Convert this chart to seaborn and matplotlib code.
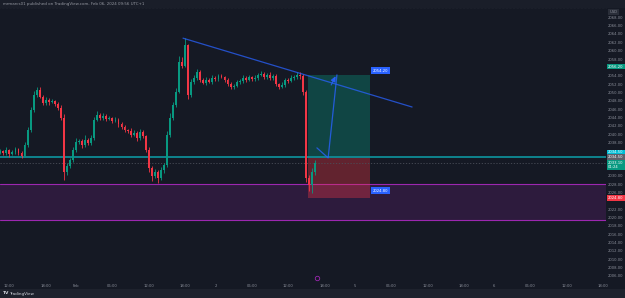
import numpy as np
import pandas as pd
import matplotlib.pyplot as plt
import seaborn as sns

# XAUUSD 30m candles (Jan 31 -> Feb 2)
first_open = 2035.5
close = [
    2036.0, 2035.5, 2036.2, 2035.2, 2035.7, 2036.4, 2035.5, 2034.8, 2037.4, 2041.0,
    2045.8, 2049.4, 2050.6, 2048.9, 2047.5, 2048.2, 2047.7, 2048.0, 2047.2, 2046.3,
    2043.9, 2030.9, 2032.4, 2033.8, 2036.2, 2038.1, 2038.4, 2037.4, 2038.6, 2037.9,
    2039.1, 2043.4, 2044.6, 2043.9, 2044.4, 2043.6, 2043.9, 2043.2, 2043.4, 2042.4,
    2041.7, 2041.0, 2040.8, 2039.8, 2040.3, 2039.1, 2040.5, 2039.6, 2036.2, 2031.9,
    2030.0, 2030.9, 2029.5, 2031.4, 2032.6, 2039.8, 2043.9, 2047.0, 2050.1, 2057.3,
    2056.4, 2061.4, 2049.4, 2052.5, 2053.5, 2054.9, 2053.0, 2052.3, 2053.0, 2052.5,
    2053.5, 2053.2, 2053.9, 2053.7, 2053.0, 2052.0, 2051.3, 2051.5, 2052.5, 2052.7,
    2053.5, 2053.0, 2053.7, 2053.2, 2053.5, 2054.2, 2054.4, 2053.7, 2054.2, 2053.5,
    2053.9, 2052.0, 2051.3, 2051.8, 2053.0, 2052.7, 2053.5, 2053.7, 2054.2, 2053.9,
    2050.1, 2029.5, 2027.8, 2030.9, 2033.1,
]
wick_up = [
    0.4, 0.3, 0.6, 0.3, 0.5, 0.4, 0.3, 0.5, 0.6, 0.8,
    0.7, 0.9, 0.7, 0.8, 0.5, 0.7, 0.4, 0.5, 0.3, 0.6,
    0.8, 0.9, 0.6, 0.5, 0.7, 0.9, 0.5, 0.4, 1.2, 0.5,
    0.6, 0.7, 1.0, 0.5, 0.6, 0.4, 0.5, 0.3, 0.6, 0.5,
    0.4, 0.5, 0.3, 0.6, 0.7, 0.4, 0.8, 0.5, 0.3, 0.6,
    0.5, 0.8, 0.4, 0.7, 0.6, 0.9, 1.2, 0.8, 1.0, 1.5,
    1.2, 1.6, 0.3, 0.8, 0.6, 0.7, 0.5, 0.4, 0.6, 0.5,
    0.7, 0.4, 0.5, 0.6, 0.3, 0.4, 0.5, 0.6, 0.4, 0.5,
    0.6, 0.4, 0.5, 0.3, 0.6, 0.5, 0.7, 0.4, 0.5, 0.6,
    0.4, 0.5, 0.3, 0.6, 0.5, 0.4, 0.6, 0.5, 0.7, 0.6,
    0.4, 0.5, 0.8, 1.0, 0.7,
]
wick_dn = [
    0.3, 0.5, 0.4, 0.6, 0.3, 0.5, 0.4, 0.6, 0.3, 0.4,
    0.5, 0.6, 0.4, 0.3, 0.5, 0.4, 0.6, 0.3, 0.5, 0.4,
    0.6, 2.0, 0.7, 0.5, 0.4, 0.6, 0.5, 0.7, 0.4, 0.6,
    0.5, 0.4, 0.3, 0.6, 0.5, 0.4, 0.3, 0.5, 0.4, 0.6,
    0.5, 0.4, 0.6, 0.5, 0.3, 0.7, 0.4, 0.5, 0.6, 1.0,
    1.3, 0.6, 1.2, 0.5, 0.7, 0.4, 0.6, 0.5, 0.4, 0.3,
    0.5, 0.4, 1.0, 0.6, 0.4, 0.5, 0.6, 0.4, 0.5, 0.3,
    0.6, 0.4, 0.5, 0.3, 0.6, 0.5, 0.4, 0.6, 0.3, 0.5,
    0.4, 0.6, 0.3, 0.5, 0.4, 0.6, 0.3, 0.5, 0.4, 0.6,
    0.5, 0.4, 0.6, 0.3, 0.5, 0.4, 0.3, 0.5, 0.4, 0.6,
    0.8, 1.0, 1.5, 1.9, 0.6,
]

# drawings
entry_price = 2034.5
target_price = 2054.2
stop_price = 2024.8
last_price = 2033.1
zone_top = 2028.0
zone_bottom = 2019.4
trend_x = [60.3, 135.9]
trend_y = [2063.0, 2046.5]
path_x = [104.5, 108.2, 111.1]
path_y = [2036.7, 2034.3, 2054.2]
box_x = [101.6, 122.0]

time_pos = [3, 15, 25, 37, 49, 61, 71, 83, 95, 107, 117, 129, 141, 153, 163, 175, 187, 199]
time_labels = ["12:00", "18:00", "Feb", "06:00", "12:00", "18:00", "2", "06:00", "12:00",
               "18:00", "5", "06:00", "12:00", "18:00", "6", "06:00", "12:00", "18:00"]
price_ticks = list(range(2006, 2070, 2))

BG = '#151924'
TXT = '#8b8f9a'
UP = '#089981'
DOWN = '#f23645'
BLUE = '#2962ff'
FS = 2.7

sns.set_theme(style='dark', rc={'axes.facecolor': BG, 'figure.facecolor': BG,
                                'savefig.facecolor': BG})
plt.rcParams['font.family'] = ['DejaVu Sans']

df = pd.DataFrame({'close': close, 'wu': wick_up, 'wd': wick_dn})
df['open'] = [first_open] + close[:-1]
df['x'] = np.arange(len(df))
df['hi'] = df[['open', 'close']].max(axis=1) + df['wu']
df['lo'] = df[['open', 'close']].min(axis=1) - df['wd']
df['col'] = np.where(df['close'] >= df['open'], UP, DOWN)

W, H = 625, 298
fig = plt.figure(figsize=(W / 100, H / 100), dpi=100)
ax = fig.add_axes([0, 17 / H, 606 / W, 273 / H])
ax.set_xlim(-0.1, 199.9)
ax.set_ylim(2004.8, 2070.23)

# supply/demand zone
ax.axhspan(zone_bottom, zone_top, color='#9c27b0', alpha=0.18, lw=0, zorder=1)
ax.axhline(zone_top, color='#9c27b0', lw=0.8, zorder=1)
ax.axhline(zone_bottom, color='#9c27b0', lw=0.8, zorder=1)

# long position box
ax.fill_between(box_x, entry_price, target_price, color=UP, alpha=0.35, lw=0, zorder=2)
ax.fill_between(box_x, stop_price, entry_price, color=DOWN, alpha=0.35, lw=0, zorder=2)

ax.axhline(entry_price, color='#0e8c96', lw=1.3, zorder=2)
ax.axhline(last_price, color='#4a4e59', lw=0.6, ls=(0, (1.5, 2)), zorder=2)

# candles
ax.vlines(df['x'], df['lo'], df['hi'], colors=df['col'], lw=0.6, zorder=3)
body = (df['close'] - df['open']).where(lambda s: s.abs() > 0.08, 0.08)
ax.bar(df['x'], body, bottom=df['open'], width=0.62, color=df['col'], lw=0, zorder=3)

# trend line and projected path
trend = pd.DataFrame({'x': trend_x, 'y': trend_y})
sns.lineplot(data=trend, x='x', y='y', ax=ax, color=BLUE, lw=0.9, alpha=0.75, zorder=4)
sns.lineplot(x=path_x, y=path_y, ax=ax, sort=False, color=BLUE, lw=0.9, alpha=0.8, zorder=4)
ax.annotate('', xy=(path_x[-1], path_y[-1] + 0.3), xytext=(path_x[-2] + 0.6, path_y[-1] - 3),
            arrowprops=dict(arrowstyle='-|>,head_length=0.25,head_width=0.12',
                            color=BLUE, lw=0.9, alpha=0.8), zorder=4)

# price labels next to the box
for p, dy in [(target_price, 1.0), (stop_price, 1.6)]:
    ax.text(box_x[1] + 1.0, p + dy, f'{p:.2f}',
            fontsize=FS, color='white', va='center', ha='left', zorder=5,
            bbox=dict(boxstyle='square,pad=0.4', fc=BLUE, ec='none'))

# right price axis
ax.yaxis.tick_right()
label_prices = [2056.2, 2035.6, 2034.5, 2032.7, 2024.7]
keep = [t for t in price_ticks if min(abs(t - lp) for lp in label_prices) > 1.2]
ax.set_yticks(keep)
ax.set_yticklabels([f'{t:.2f}' for t in keep])
ax.tick_params(axis='y', labelsize=FS, labelcolor=TXT, length=0, pad=1.2)
ax.set_xticks(time_pos)
ax.set_xticklabels(time_labels)
ax.tick_params(axis='x', labelsize=FS, labelcolor=TXT, length=0, pad=2.5)
ax.set_xlabel('')
ax.set_ylabel('')
ax.grid(False)
for s in ax.spines.values():
    s.set_visible(False)

trans = ax.get_yaxis_transform()
axis_labels = [
    (2056.2, '2056.20', UP),
    (2035.6, '2034.50', '#00bcd4'),
    (2034.5, '2034.50', '#5d606b'),
    (2032.7, '2033.10\n01:24', UP),
    (2024.7, '2024.80', DOWN),
]
for y, txt, fc in axis_labels:
    ax.text(1.0035, y, txt, transform=trans, fontsize=FS, color='white', va='center', ha='left',
            linespacing=1.0, zorder=6, clip_on=False,
            bbox=dict(boxstyle='square,pad=0.25', fc=fc, ec='none'))
ax.text(1.006, 2069.3, 'USD', transform=trans, fontsize=FS, color=TXT, va='center',
        ha='left', clip_on=False, bbox=dict(boxstyle='square,pad=0.35', fc='#2a2e39', ec='none'))

# purple "jump to realtime" icon on the time scale
ax.plot([104.4], [2005.6], marker='o', ms=3.2, mfc='none', mec='#9c27b0', mew=0.6,
        clip_on=False, zorder=6)

# header and footer
fig.patches.append(plt.Rectangle((0, (H - 7.5) / H), 1, 7.5 / H, transform=fig.transFigure,
                                 fc='#1a1e29', ec='none', zorder=0))
fig.lines.append(plt.Line2D([0, 606 / W], [(H - 7.8) / H] * 2, transform=fig.transFigure,
                            color='#2a2e39', lw=0.4, ls=(0, (1, 1.5))))
fig.text(3 / W, (H - 3.8) / H, 'mrmarcs01 published on TradingView.com, Feb 06, 2024 09:56 UTC+1',
         fontsize=2.9, color='#9598a1', va='center', ha='left')
fig.patches.append(plt.Rectangle((0, 0), 1, 9 / H, transform=fig.transFigure,
                                 fc='#1e222d', ec='none', zorder=0))
fig.text(3 / W, 4.5 / H, 'TV', fontsize=3.2, fontweight='bold', color='#d1d4dc',
         va='center', ha='left')
fig.text(9 / W, 4.5 / H, 'TradingView', fontsize=3.0, color='#d1d4dc', va='center', ha='left')

fig.savefig('out.png', dpi=100)
